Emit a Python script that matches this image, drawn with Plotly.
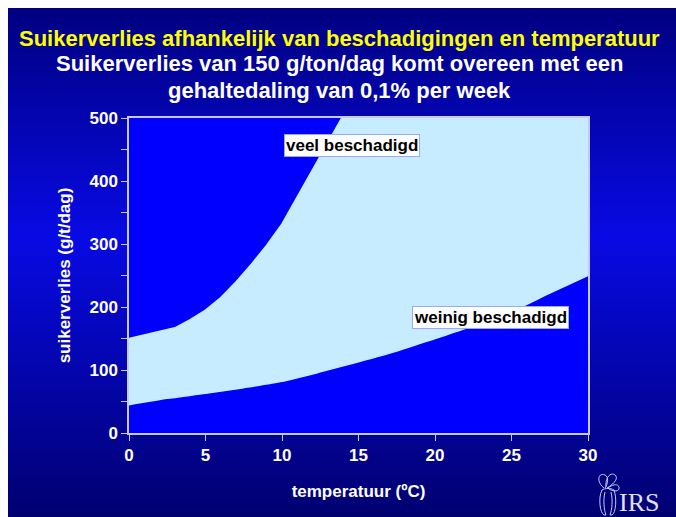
import plotly.graph_objects as go

# data
temp_upper = [0, 1, 2, 3, 4, 5, 6, 7, 8, 9, 10, 11, 12, 13, 13.9, 30]
veel_beschadigd = [150, 156, 161, 167, 180, 195, 215, 240, 268, 298, 332, 375, 420, 462, 500, 500]
temp_lower = [0, 2.5, 5, 7.5, 10, 12.5, 15, 17.5, 20, 22.5, 25, 27.5, 30]
weinig_beschadigd = [45, 55, 63, 72, 82, 97, 113, 130, 150, 170, 193, 222, 250]
x_ticks = [0, 5, 10, 15, 20, 25, 30]
y_ticks = [0, 100, 200, 300, 400, 500]

# page is offset by the 8px body margin; figure coords = screenshot - 8
W, H = 668, 509
L, T = 121, 110
R, B = W - 580, H - 425
pw, ph = W - L - R, H - T - B

def px2paper_x(px):
    return (px - L) / pw

def px2paper_y(py):
    return 1 - (py - T) / ph

def P(x, y):
    return "%.5f,%.5f" % (px2paper_x(x), px2paper_y(y))

def lerp(c1, c2, t):
    return tuple(int(round(a + (b - a) * t)) for a, b in zip(c1, c2))

stops = [(0.0, (0, 0, 128)), (0.45, (8, 10, 228)), (1.0, (0, 0, 112))]

def grad(t):
    for (t0, c0), (t1, c1) in zip(stops, stops[1:]):
        if t0 <= t <= t1:
            return lerp(c0, c1, (t - t0) / (t1 - t0))
    return stops[-1][1]

shapes = []
n = 80
for i in range(n):
    y0 = H * i / n
    y1 = H * (i + 1) / n + 1
    c = grad((i + 0.5) / n)
    shapes.append(dict(type="rect", xref="paper", yref="paper", layer="below",
                       x0=px2paper_x(-2), x1=px2paper_x(W + 2),
                       y0=px2paper_y(y1 if i < n - 1 else H + 2), y1=px2paper_y(y0),
                       line=dict(width=0), fillcolor="rgb(%d,%d,%d)" % c))
# plot area background
shapes.append(dict(type="rect", xref="x", yref="y", layer="below",
                   x0=0, x1=30, y0=0, y1=500, line=dict(width=0), fillcolor="#0000ff"))

# small IRS flower logo (decoration)
logo_col = "#c8c8ff"
logo_paths = [
    "M" + P(596, 480) + " C" + P(588, 474) + " " + P(590, 464) + " " + P(597, 467) + " C" + P(601, 469) + " " + P(600, 476) + " " + P(597, 480),
    "M" + P(598, 479) + " C" + P(597, 468) + " " + P(604, 463) + " " + P(608, 468) + " C" + P(610, 472) + " " + P(604, 477) + " " + P(599, 480),
    "M" + P(600, 480) + " C" + P(606, 475) + " " + P(612, 476) + " " + P(611, 481) + " C" + P(610, 484) + " " + P(604, 483) + " " + P(601, 481),
    "M" + P(594, 482) + " C" + P(590, 490) + " " + P(592, 505) + " " + P(596, 507) + " L" + P(598, 507),
    "M" + P(606, 482) + " C" + P(609, 490) + " " + P(608, 505) + " " + P(604, 507) + " L" + P(602, 507),
    "M" + P(594, 482) + " C" + P(597, 480) + " " + P(603, 480) + " " + P(606, 482),
    "M" + P(597, 484) + " C" + P(595, 492) + " " + P(596, 502) + " " + P(598, 507),
    "M" + P(603, 484) + " C" + P(605, 492) + " " + P(604, 502) + " " + P(602, 507),
]
for pth in logo_paths:
    shapes.append(dict(type="path", xref="paper", yref="paper", path=pth,
                       line=dict(color=logo_col, width=1)))

fig = go.Figure()
fig.add_trace(go.Scatter(x=temp_lower, y=weinig_beschadigd, mode="lines",
                         line=dict(color="#c8ecff", width=1.5, shape="spline", smoothing=0.6),
                         hoverinfo="skip", showlegend=False))
fig.add_trace(go.Scatter(x=temp_upper, y=veel_beschadigd, mode="lines", fill="tonexty",
                         fillcolor="#c8ecff",
                         line=dict(color="#c8ecff", width=1.5),
                         hoverinfo="skip", showlegend=False))

axis_line = "#c8c8ff"
tick_font = dict(family="Liberation Sans", size=17, color="white", weight="bold")
fig.update_xaxes(range=[0, 30], tickvals=x_ticks, ticks="outside", ticklen=6,
                 tickcolor=axis_line, showline=True, linecolor=axis_line, linewidth=1.5,
                 mirror=True, showgrid=False, zeroline=False, tickfont=tick_font,
                 title=dict(text="<b>temperatuur (ºC)</b>", standoff=21,
                            font=dict(family="Liberation Sans", size=17, color="white")))
fig.update_yaxes(range=[0, 500], tickvals=y_ticks, ticks="outside", ticklen=6,
                 tickcolor=axis_line, showline=True, linecolor=axis_line, linewidth=1.5,
                 mirror=True, showgrid=False, zeroline=False, tickfont=tick_font,
                 minor=dict(dtick=50, ticks="outside", ticklen=6, tickcolor=axis_line),
                 title=dict(text="<b>suikerverlies (g/t/dag)</b>", standoff=15,
                            font=dict(family="Liberation Sans", size=17, color="white")))

ann_font = dict(family="Liberation Sans", size=17, color="black")
fig.add_annotation(x=14.6, y=457, text="<b>veel beschadigd</b>", showarrow=False,
                   bgcolor="white", bordercolor="#9aa8ff", borderwidth=1, borderpad=1, font=ann_font)
fig.add_annotation(x=23.6, y=184, text="<b>weinig beschadigd</b>", showarrow=False,
                   bgcolor="white", bordercolor="#9aa8ff", borderwidth=1, borderpad=1, font=ann_font)

title_font = dict(family="Liberation Sans", size=22)
fig.add_annotation(xref="paper", yref="paper", x=px2paper_x(331), y=px2paper_y(30),
                   xanchor="center", yanchor="middle",
                   text="<b>Suikerverlies afhankelijk van beschadigingen en temperatuur</b>",
                   showarrow=False, font=dict(**title_font, color="#ffff00"))
fig.add_annotation(xref="paper", yref="paper", x=px2paper_x(331), y=px2paper_y(56),
                   xanchor="center", yanchor="middle",
                   text="<b>Suikerverlies van 150 g/ton/dag komt overeen met een</b>",
                   showarrow=False, font=dict(**title_font, color="white"))
fig.add_annotation(xref="paper", yref="paper", x=px2paper_x(331), y=px2paper_y(82),
                   xanchor="center", yanchor="middle",
                   text="<b>gehaltedaling van 0,1% per week</b>",
                   showarrow=False, font=dict(**title_font, color="white"))
fig.add_annotation(xref="paper", yref="paper", x=px2paper_x(631), y=px2paper_y(494),
                   xanchor="center", yanchor="middle",
                   text="IRS", showarrow=False,
                   font=dict(family="Liberation Serif", size=26, color="#e0e0ff"))

fig.update_layout(width=W, height=H, margin=dict(l=L, r=R, t=T, b=B),
                  paper_bgcolor="#000070", plot_bgcolor="#0000ff", shapes=shapes)
fig.write_html("out.html",
               post_script="document.body.style.margin='8px 0 0 8px';document.body.style.overflow='hidden';")
